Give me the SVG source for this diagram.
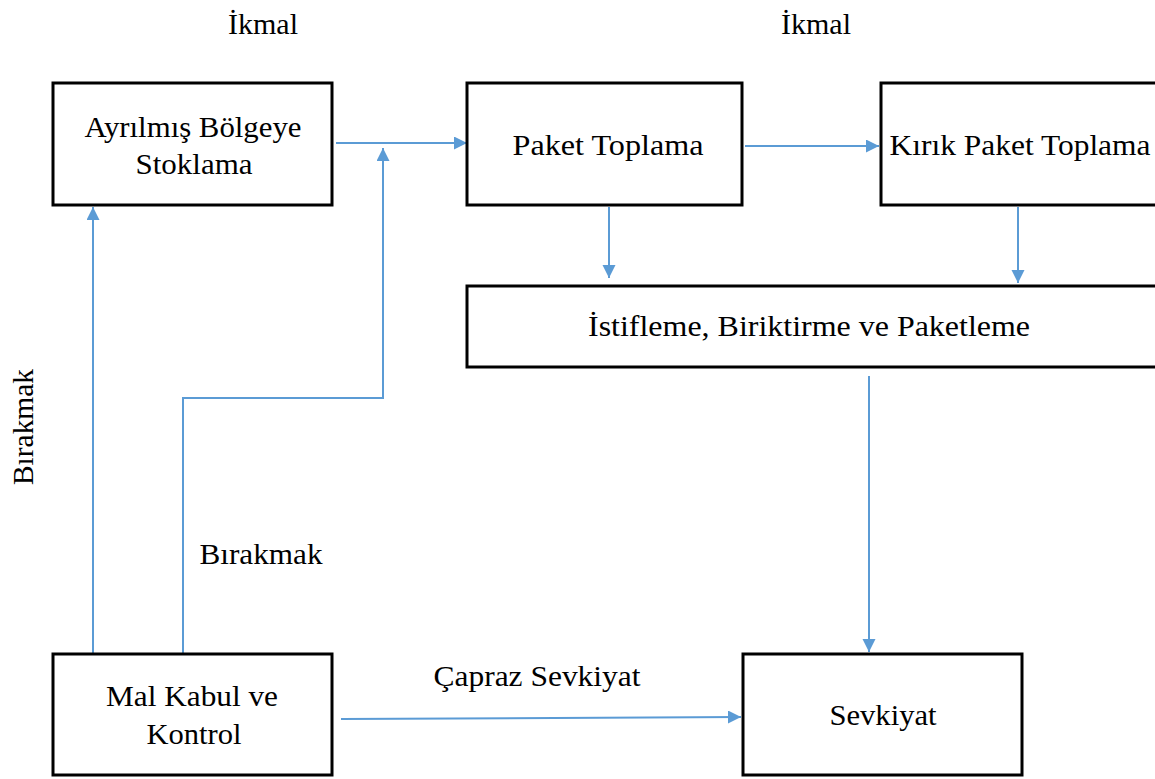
<svg xmlns="http://www.w3.org/2000/svg" width="1155" height="779" viewBox="0 0 1155 779">
<style>
.box{fill:#fff;stroke:#000;stroke-width:3}
.t{font-size:30px;fill:#000;text-anchor:middle}
.c{fill:none;stroke:#5B9BD5;stroke-width:2;marker-end:url(#ah)}
</style>
<defs>
<marker id="ah" markerUnits="userSpaceOnUse" markerWidth="14" markerHeight="14" refX="13" refY="6.5" orient="auto">
<path d="M0,0 L13,6.5 L0,13 z" fill="#5B9BD5"/>
</marker>
</defs>
<rect width="1155" height="779" fill="#fff"/>
<g font-family="Liberation Serif, DejaVu Serif, Times New Roman, serif">
<g id="labels">
<text class="t" x="263" y="34" textLength="70" lengthAdjust="spacingAndGlyphs">İkmal</text>
<text class="t" x="816" y="34" textLength="70" lengthAdjust="spacingAndGlyphs">İkmal</text>
<text class="t" transform="translate(33,427) rotate(-90)" textLength="116" lengthAdjust="spacingAndGlyphs">Bırakmak</text>
<text class="t" x="261" y="564" textLength="123" lengthAdjust="spacingAndGlyphs">Bırakmak</text>
<text class="t" x="537" y="686" textLength="207" lengthAdjust="spacingAndGlyphs">Çapraz Sevkiyat</text>
</g>
<g id="connectors">
<path class="c" d="M336,143 L467,143"/>
<path class="c" d="M93,653 L93,207"/>
<path class="c" d="M183,653 L183,398 L383,398 L383,148"/>
<path class="c" d="M745,146 L879,146"/>
<path class="c" d="M609,207 L609,278"/>
<path class="c" d="M1018,207 L1018,283"/>
<path class="c" d="M869,376 L869,652"/>
<path class="c" d="M341,719 L741,717"/>
</g>
<g id="n-ayrilmis">
<rect class="box" x="53" y="83" width="279" height="122"/>
<text class="t" x="193" y="137" textLength="217" lengthAdjust="spacingAndGlyphs">Ayrılmış Bölgeye</text>
<text class="t" x="194" y="174" textLength="117" lengthAdjust="spacingAndGlyphs">Stoklama</text>
</g>
<g id="n-paket">
<rect class="box" x="467" y="83" width="275" height="122"/>
<text class="t" x="608" y="155" textLength="191" lengthAdjust="spacingAndGlyphs">Paket Toplama</text>
</g>
<g id="n-kirik">
<rect class="box" x="881" y="83" width="290" height="122"/>
<text class="t" x="1020" y="155" textLength="261" lengthAdjust="spacingAndGlyphs">Kırık Paket Toplama</text>
</g>
<g id="n-istifleme">
<rect class="box" x="467" y="286" width="700" height="81"/>
<text class="t" x="809" y="336" textLength="442" lengthAdjust="spacingAndGlyphs">İstifleme, Biriktirme ve Paketleme</text>
</g>
<g id="n-malkabul">
<rect class="box" x="53" y="654" width="279" height="121"/>
<text class="t" x="192" y="706" textLength="172" lengthAdjust="spacingAndGlyphs">Mal Kabul ve</text>
<text class="t" x="194" y="744" textLength="95" lengthAdjust="spacingAndGlyphs">Kontrol</text>
</g>
<g id="n-sevkiyat">
<rect class="box" x="743" y="654" width="279" height="121"/>
<text class="t" x="883" y="725" textLength="107" lengthAdjust="spacingAndGlyphs">Sevkiyat</text>
</g>
</g>
</svg>
